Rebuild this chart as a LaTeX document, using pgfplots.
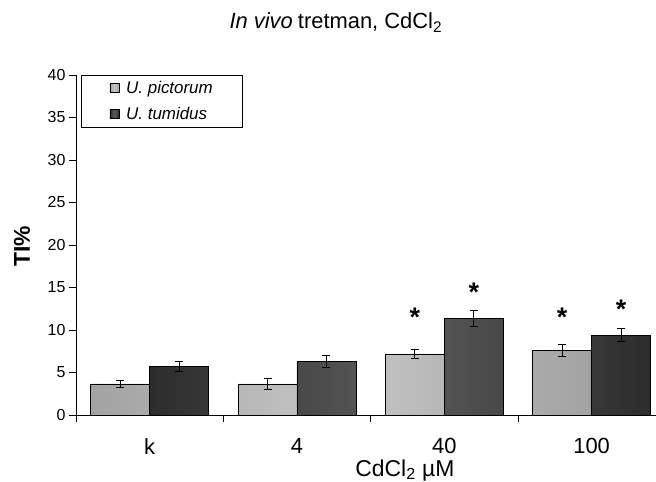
\documentclass[border=0pt]{standalone}
\usepackage{fontspec}
\setmainfont{Liberation Sans}
\usepackage{pgfplots}
\pgfplotsset{compat=1.18}

\definecolor{lightedge}{HTML}{A2A2A2}
\definecolor{lightmid}{HTML}{C6C6C6}
\definecolor{darkedge}{HTML}{2C2C2C}
\definecolor{darkmid}{HTML}{5C5C5C}

\begin{document}
\begin{tikzpicture}
\path[use as bounding box] (-76bp,-67bp) rectangle (580bp,415bp);
\begin{axis}[
  at={(0,0)}, anchor=south west,
  scale only axis, width=580bp, height=340bp,
  xmin=-0.5, xmax=3.437, ymin=0, ymax=40,
  axis lines*=left,
  axis line style={black, line width=0.8pt},
  tick align=outside,
  tick style={black, line width=0.8pt},
  major tick length=7bp,
  ytick={0,5,...,40},
  yticklabel style={font=\fontsize{16}{16}\selectfont},
  /pgf/number format/assume math mode=true,
  xtick={-0.5,0.5,1.5,2.5},
  xticklabels={},
  extra x ticks={0,1,2,3},
  extra x tick labels={k,4,40,100},
  extra x tick style={major tick length=0pt,
    xticklabel style={font=\fontsize{22}{22}\selectfont, anchor=north, yshift=-20bp}},
  title={\textit{In vivo}\hspace{-1bp} tretman, CdCl\textsubscript{2}},
  title style={at={(axis description cs:0.448,1.137)}, anchor=center,
    font=\fontsize{22}{22}\selectfont},
  xlabel={CdCl\textsubscript{2} µM},
  x label style={at={(axis description cs:0.567,-0.162)}, anchor=center,
    font=\fontsize{23}{23}\selectfont},
  ylabel={\textbf{TI\%}},
  y label style={at={(axis description cs:-0.093,0.497)}, anchor=center,
    font=\fontsize{23}{23}\selectfont},
  legend style={at={(axis description cs:0.009,1)}, anchor=north west,
    draw=black, line width=0.8pt, font=\fontsize{17}{17}\itshape,
    inner xsep=28bp, inner ysep=4bp, row sep=8bp},
  legend cell align=left,
  legend image code/.code={
    \path (0bp,0bp) (14bp,0bp);
    \draw[#1, line width=0.6pt] (0bp,-4.5bp) rectangle (9bp,4.5bp);},
]
\addplot[ybar, bar width=0.4, bar shift=-0.2, draw=black, line width=0.6pt,
  left color=lightedge, right color=lightedge, middle color=lightmid]
  coordinates {(0,3.65) (1,3.65) (2,7.2) (3,7.6)};
\addlegendentry{U. pictorum}
\addplot[ybar, bar width=0.4, bar shift=0.2, draw=black, line width=0.6pt,
  left color=darkedge, right color=darkedge, middle color=darkmid]
  coordinates {(0,5.7) (1,6.27) (2,11.33) (3,9.4)};
\addlegendentry{U. tumidus}

% error bars
\addplot[draw=none, mark=none, forget plot,
  error bars/.cd, y dir=both, y explicit,
  error bar style={black, line width=0.8pt},
  error mark options={black, rotate=90, mark size=4bp, line width=0.8pt}]
  coordinates {(-0.2,3.65) +- (0,0.43) (0.8,3.65) +- (0,0.65)
               (1.8,7.2) +- (0,0.57) (2.8,7.6) +- (0,0.76)};
\addplot[draw=none, mark=none, forget plot,
  error bars/.cd, y dir=both, y explicit,
  error bar style={black, line width=0.8pt},
  error mark options={black, rotate=90, mark size=4bp, line width=0.8pt}]
  coordinates {(0.2,5.7) +- (0,0.55) (1.2,6.27) +- (0,0.7)
               (2.2,11.33) +- (0,0.92) (3.2,9.4) +- (0,0.75)};

% significance stars
\addplot[draw=none, mark=none, forget plot,
  nodes near coords={\textbf{*}},
  every node near coord/.append style={anchor=north, inner sep=0pt,
    font=\fontsize{27}{27}\selectfont}]
  coordinates {(1.8,12.6) (2.2,15.6) (2.8,12.6) (3.2,13.6)};
\end{axis}
\end{tikzpicture}
\end{document}
